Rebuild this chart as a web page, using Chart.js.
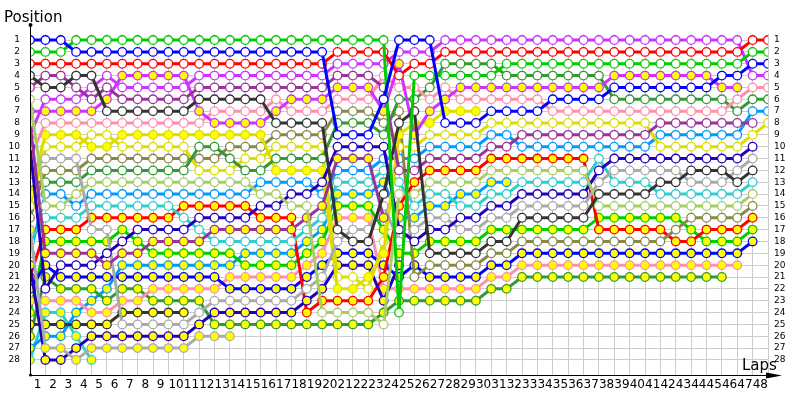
<!DOCTYPE html>
<html>
<head>
<meta charset="utf-8">
<script src="https://cdn.jsdelivr.net/npm/chart.js@4.4.1/dist/chart.umd.min.js"></script>
<style>
html,body{margin:0;padding:0;background:#fff;}
#wrap{width:800px;height:400px;position:relative;}
</style>
</head>
<body>
<div id="wrap"><canvas id="c" width="800" height="400"></canvas></div>
<script>
// ---- data (lap 0 .. lap 48), positions; null = no longer running ----
const lapTicks = [1,2,3,4,5,6,7,8,9,10,11,12,13,14,15,16,17,18,19,20,21,22,23,24,25,26,27,28,29,30,31,32,33,34,35,36,37,38,39,40,41,42,43,44,45,46,47,48];
const positionTicks = [1,2,3,4,5,6,7,8,9,10,11,12,13,14,15,16,17,18,19,20,21,22,23,24,25,26,27,28];
const N = null;

const blueW    = [1,1,1,2,2,2,2,2,2,2, 2,2,2,2,2,2,2,2,2,2, 9,9,9,6,1,1,1,8,8,8, 7,7,7,7,6,6,6,6,5,5, 5,5,5,5,5,4,4,3,3];
const greenW   = [2,2,2,1,1,1,1,1,1,1, 1,1,1,1,1,1,1,1,1,1, 1,1,1,1,24,4,4,4,4,4, 4,3,3,3,3,3,3,3,3,3, 3,3,3,3,3,3,3,2,2];
const redW     = [3,3,3,3,3,3,3,3,3,3, 3,3,3,3,3,3,3,3,3,3, 2,2,2,2,4,3,3,2,2,2, 2,2,2,2,2,2,2,2,2,2, 2,2,2,2,2,2,2,1,1];
const dgrayW   = [4,5,5,4,4,7,7,7,7,7, 7,6,6,6,6,6,8,8,8,8, 17,18,18,14,8,7,19,19,19,19, 18,18,16,16,16,16,16,14,14,14, 14,13,13,12,12,12,13,12,N];
const dpurpleW = [5,4,4,5,6,5,6,6,6,6, 6,5,5,5,5,5,5,5,5,5, 4,4,4,5,12,12,11,11,11,11, 10,10,9,9,9,9,9,9,9,9, 9,8,8,8,8,8,8,8,N];
const lgreenW  = [6,15,15,14,13,13,13,13,13,13, 13,13,13,13,13,14,14,15,15,24, 24,24,24,25,14,14,13,13,13,13, 12,12,12,12,12,12,12,15,15,15, 15,15,15,15,15,15,15,14,N];
const violetY  = [7,7,7,7,7,6,4,4,4,4, 4,7,8,8,8,8,7,6,6,6, 5,5,5,7,3,9,7,6,5,5, 5,5,5,5,5,5,5,5,4,4, 4,4,4,4,4,5,5,N,N];
const dpurpleY = [8,19,19,19,19,20,19,19,18,18, 18,18,17,17,17,17,17,17,16,15, 11,11,11,16,N,N,N,N,N,N, N,N,N,N,N,N,N,N,N,N, N,N,N,N,N,N,N,N,N];
const violetW  = [9,6,6,6,5,4,5,5,5,5, 5,4,4,4,4,4,4,4,4,4, 3,3,3,3,2,2,2,1,1,1, 1,1,1,1,1,1,1,1,1,1, 1,1,1,1,1,1,1,4,4];
const navyW    = [10,22,20,20,20,19,18,17,17,17, 17,16,16,16,16,15,15,14,14,13, 10,10,10,10,17,18,17,17,16,16, 15,15,14,14,14,14,14,12,11,11, 11,11,11,11,11,11,11,10,N];
const pinkW    = [11,8,8,8,8,8,8,8,8,8, 8,8,7,7,7,7,6,7,7,7, 6,6,6,4,5,5,6,5,6,6, 6,6,6,6,7,7,7,7,7,7, 7,7,7,7,7,7,6,5,5];
const grayW    = [12,11,11,11,17,17,25,25,25,25, 25,24,23,23,23,23,23,23,22,21, 18,17,17,15,18,17,16,16,17,17, 16,16,15,15,15,15,15,13,12,12, 12,12,12,13,13,13,12,11,N];
const dgreenW  = [13,13,13,13,12,12,12,12,12,12, 12,10,10,11,12,12,11,11,11,11, 8,8,8,9,6,6,5,3,3,3, 3,4,4,4,4,4,4,4,6,6, 6,6,6,6,6,6,7,6,6];
const yellowY  = [14,9,9,9,10,10,9,9,9,9, 9,9,9,9,9,9,12,12,12,12, 22,22,21,19,9,8,8,7,7,7, N,N,N,N,N,N,N,N,N,N, N,N,N,N,N,N,N,N,N];
const yellowW  = [15,10,10,10,9,9,10,10,10,10, 10,12,12,12,11,11,10,10,10,10, 21,21,22,18,10,10,9,9,9,9, 8,8,8,8,8,8,8,8,8,8, 8,10,10,10,10,10,10,9,8];
const oliveW   = [16,12,12,12,11,11,11,11,11,11, 11,11,11,10,10,10,9,9,9,9, 7,7,7,8,7,21,20,20,20,20, 19,19,18,18,18,18,18,18,18,18, 18,18,17,16,16,16,16,15,N];
const grayY    = [17,27,27,28,27,27,27,27,27,27, 27,26,26,26,N,N,N,N,N,N, N,N,N,N,N,N,N,N,N,N, N,N,N,N,N,N,N,N,N,N, N,N,N,N,N,N,N,N,N];
const cyanW    = [18,16,16,16,15,15,15,15,15,15, 16,17,18,18,18,18,18,18,17,16, 13,13,13,12,13,15,14,14,15,15, 14,14,13,13,13,13,13,11,13,13, 13,14,14,14,14,14,14,13,N];
const lblueW   = [19,14,14,15,14,14,14,14,14,14, 14,14,14,14,14,13,13,13,13,14, 12,12,12,11,11,11,10,10,10,10, 9,9,10,10,10,10,10,10,10,10, 10,9,9,9,9,9,9,7,7];
const navyY    = [20,28,28,27,26,26,26,26,26,26, 26,25,24,24,24,24,24,24,23,22, 20,20,20,23,20,N,N,N,N,N, N,N,N,N,N,N,N,N,N,N, N,N,N,N,N,N,N,N,N];
const redY     = [21,17,17,17,16,16,16,16,16,16, 15,15,15,15,15,16,16,16,24,23, 23,23,23,21,15,13,12,12,12,12, 11,11,11,11,11,11,11,17,17,17, 17,17,18,18,17,17,17,16,N];
const blueY    = [22,20,21,21,21,21,21,21,21,21, 21,21,21,22,22,22,22,22,21,20, 19,19,19,20,21,20,21,21,21,21, 20,20,19,19,19,19,19,19,19,19, 19,19,19,19,19,19,19,18,N];
const pinkY    = [23,23,23,23,24,24,23,23,22,22, 22,22,22,21,21,21,21,21,20,19, 16,16,16,22,22,22,22,22,22,22, 21,21,20,20,20,20,20,20,20,20, 20,20,20,20,20,20,20,N,N];
const greenY   = [24,18,18,18,18,18,17,18,19,19, 19,19,19,19,20,20,20,20,19,18, 15,15,15,17,19,19,18,18,18,18, 17,17,17,17,17,17,17,16,16,16, 16,16,16,17,18,18,18,17,N];
const dgrayY   = [25,25,25,25,25,25,24,24,24,24, 24,N,N,N,N,N,N,N,N,N, N,N,N,N,N,N,N,N,N,N, N,N,N,N,N,N,N,N,N,N, N,N,N,N,N,N,N,N,N];
const dgreenY  = [26,21,22,22,22,23,22,22,23,23, 23,23,25,25,25,25,25,25,25,25, 25,25,25,24,23,23,23,23,23,23, 22,22,21,21,21,21,21,21,21,21, 21,21,21,21,21,21,N,N,N];
const lblueY   = [27,26,26,24,23,22,20,20,20,20, 20,20,20,20,19,19,19,19,18,17, 14,14,14,13,16,16,15,15,14,14, 13,13,N,N,N,N,N,N,N,N, N,N,N,N,N,N,N,N,N];
const cyanY    = [28,24,24,26,28,N,N,N,N,N, N,N,N,N,N,N,N,N,N,N, N,N,N,N,N,N,N,N,N,N, N,N,N,N,N,N,N,N,N,N, N,N,N,N,N,N,N,N,N];

// series in starting-grid order: [values, line colour, marker fill]
const WHITE = '#ffffff', YEL = '#ffff00';
const series = [
  [blueW,'#0000ff',WHITE],[greenW,'#00cc00',WHITE],[redW,'#ff0000',WHITE],
  [dgrayW,'#333333',WHITE],[dpurpleW,'#993399',WHITE],[lgreenW,'#aacc66',WHITE],
  [violetY,'#cc33ff',YEL],[dpurpleY,'#993399',YEL],[violetW,'#cc33ff',WHITE],
  [navyW,'#2200bb',WHITE],[pinkW,'#ff8fab',WHITE],[grayW,'#aaaaaa',WHITE],
  [dgreenW,'#339933',WHITE],[yellowY,'#dddd00',YEL],[yellowW,'#dddd00',WHITE],
  [oliveW,'#888848',WHITE],[grayY,'#aaaaaa',YEL],[cyanW,'#33cccc',WHITE],
  [lblueW,'#0099ff',WHITE],[navyY,'#2200bb',YEL],[redY,'#ff0000',YEL],
  [blueY,'#0000ff',YEL],[pinkY,'#ff8fab',YEL],[greenY,'#00cc00',YEL],
  [dgrayY,'#333333',YEL],[dgreenY,'#339933',YEL],[lblueY,'#0099ff',YEL],[cyanY,'#33cccc',YEL]
];

const toXY = arr => arr.map((v,i)=>({x:i,y:v}));
const datasets = series.map(([vals,col,fill])=>({
  data:toXY(vals),borderColor:col,borderWidth:3,fill:false,spanGaps:false,
  pointBackgroundColor:fill,pointBorderColor:col,pointBorderWidth:1.3,pointRadius:4.3
}));

const FONT = 'DejaVu Sans';
const axisDeco = {
  id:'axisDeco',
  afterDraw(chart){
    const ctx = chart.ctx, a = chart.chartArea;
    ctx.save();
    ctx.strokeStyle='#000'; ctx.fillStyle='#000'; ctx.lineWidth=1;
    ctx.beginPath(); ctx.moveTo(a.left+0.5,a.bottom); ctx.lineTo(a.left+0.5,25); ctx.stroke();
    ctx.beginPath(); ctx.arc(a.left+0.5,25,2,0,Math.PI*2); ctx.fill();
    ctx.beginPath(); ctx.arc(a.left+0.5,a.bottom,1.5,0,Math.PI*2); ctx.fill();
    ctx.beginPath(); ctx.moveTo(a.left,a.bottom+0.5); ctx.lineTo(778,a.bottom+0.5); ctx.stroke();
    ctx.beginPath(); ctx.moveTo(782,a.bottom+0.5); ctx.lineTo(766,a.bottom-2.5); ctx.lineTo(766,a.bottom+3.5); ctx.closePath(); ctx.fill();
    ctx.textBaseline='alphabetic'; ctx.textAlign='left';
    ctx.font = '15px "'+FONT+'"';
    ctx.fillText('Position',4,22);
    ctx.fillText('Laps',742,370);
    ctx.restore();
  }
};

new Chart(document.getElementById('c'),{
  type:'line',
  data:{datasets},
  options:{
    responsive:false, animation:false, events:[],
    layout:{padding:{top:34,left:0,right:0,bottom:0}},
    plugins:{legend:{display:false},tooltip:{enabled:false},title:{display:false}},
    scales:{
      x:{type:'linear',min:0,max:48,
        afterFit:s=>{s.height=25;},
        afterBuildTicks:s=>{s.ticks=[0].concat(lapTicks).map(v=>({value:v}));},
        grid:{color:'#cccccc',lineWidth:1,drawTicks:false},
        border:{display:false},
        ticks:{autoSkip:false,maxRotation:0,padding:3,labelOffset:-7.7,color:'#000',font:{family:FONT,size:12},callback:v=>v===0?'':String(v)}},
      y:{type:'linear',reverse:true,min:0.49,max:29.27,position:'left',
        afterFit:s=>{s.width=30;},
        afterBuildTicks:s=>{s.ticks=positionTicks.map(v=>({value:v}));},
        grid:{color:'#cccccc',lineWidth:1,drawTicks:false},
        border:{display:false},
        ticks:{autoSkip:false,padding:10,color:'#000',font:{family:FONT,size:9}}},
      y2:{type:'linear',reverse:true,min:0.49,max:29.27,position:'right',
        afterFit:s=>{s.width=32;},
        afterBuildTicks:s=>{s.ticks=positionTicks.map(v=>({value:v}));},
        grid:{display:false,drawTicks:false},
        border:{display:false},
        ticks:{autoSkip:false,padding:6,color:'#000',font:{family:FONT,size:9}}}
    }
  },
  plugins:[axisDeco]
});
</script>
</body>
</html>
